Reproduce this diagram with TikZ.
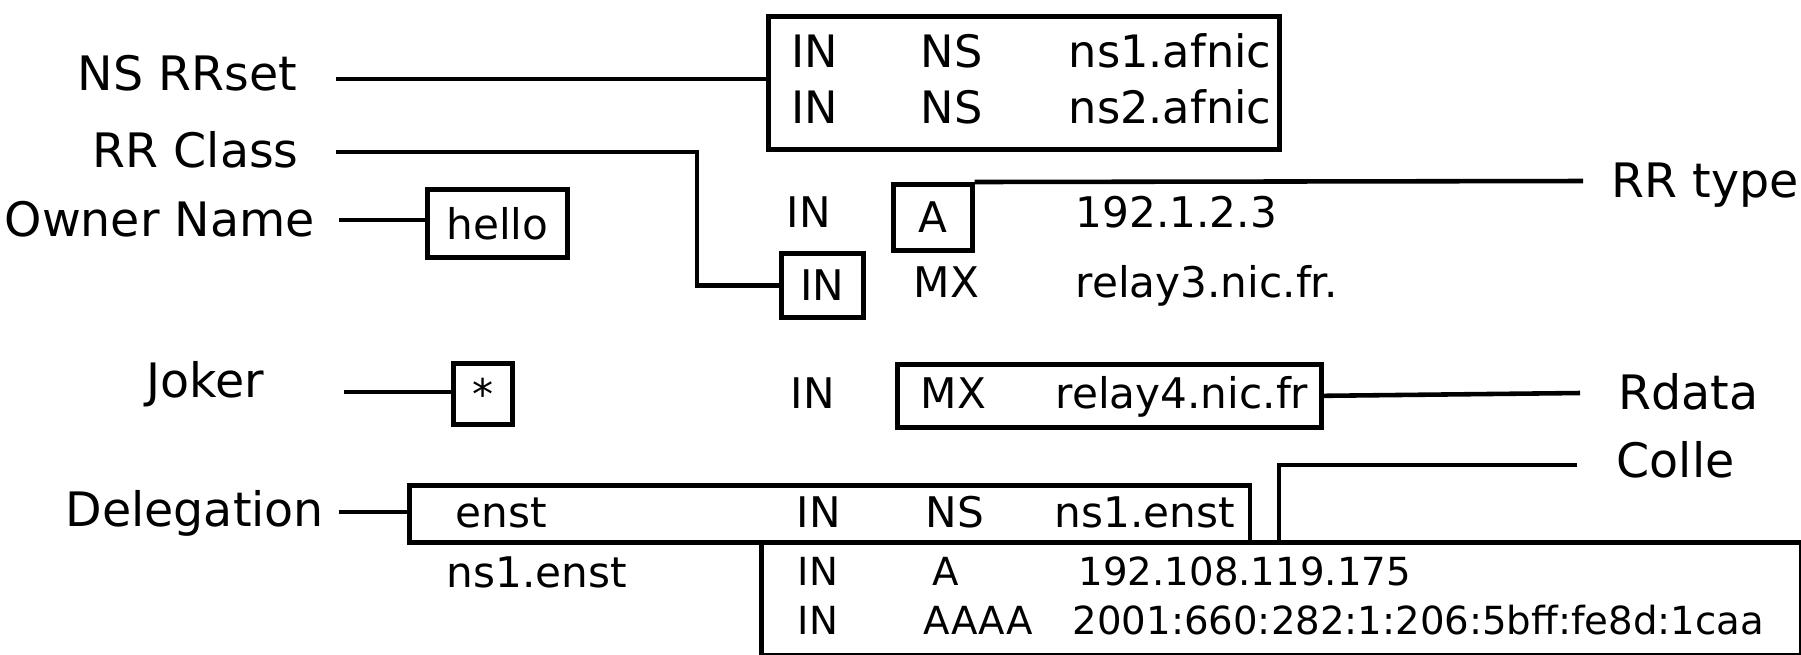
\documentclass[tikz,border=0pt]{standalone}
\usepackage{fontspec}
\setmainfont{DejaVu Sans}
\usepackage{tikz}
\tikzstyle{lbl} = [inner sep=0pt, anchor=base west, font=\fontsize{13.5}{16}\selectfont]
\tikzstyle{fld} = [inner sep=0pt, anchor=base west, font=\fontsize{12}{14}\selectfont]
\tikzstyle{nsfld} = [inner sep=0pt, anchor=base west, font=\fontsize{12.7}{15}\selectfont]
\tikzstyle{gluefld} = [inner sep=0pt, anchor=base west, font=\fontsize{11}{13}\selectfont]
\tikzstyle{rrbox} = [draw, line width=1.3pt, inner sep=0pt, anchor=north west, font=\fontsize{12}{14}\selectfont]
\tikzstyle{link} = [line width=1.3pt]

\begin{document}
\begin{tikzpicture}[x=0.01cm, y=-0.01cm]
            \useasboundingbox (0,0) rectangle (1801,654);

            % labels
            \node[lbl] (nsrr) at (77,90) {NS RRset};
            \node[lbl] (rrclass) at (92,167) {RR Class};
            \node[lbl] (owner) at (4,236) {Owner Name};
            \node[lbl] (joker) at (146,397) {Joker};
            \node[lbl] (deleg) at (65,526) {Delegation};
            \node[lbl] (rrtype) at (1611,197) {RR type};
            \node[lbl] (rdata) at (1618,409) {Rdata};
            \node[lbl] (colle) at (1616,477) {Colle};

            % NS RRset
            \node[nsfld] (ns1in) at (791,67) {IN};
            \node[nsfld] (ns1type) at (920,67) {NS};
            \node[nsfld] (ns1data) at (1068,67) {ns1.afnic};
            \node[nsfld] (ns2in) at (791,123) {IN};
            \node[nsfld] (ns2type) at (920,123) {NS};
            \node[nsfld] (ns2data) at (1068,123) {ns2.afnic};

            % boxes
            \node[rrbox, minimum width=5.11cm, minimum height=1.33cm] (nsset) at (766,14) {};
            \node[rrbox, minimum width=1.40cm, minimum height=0.68cm] (hellobox) at (425,187) {hello};
            \node[rrbox, minimum width=0.82cm, minimum height=0.64cm] (classbox) at (779,251) {IN};
            \node[rrbox, minimum width=0.79cm, minimum height=0.66cm] (typebox) at (891,182) {A};
            \node[rrbox, minimum width=0.59cm, minimum height=0.61cm] (starbox) at (451,361) {\raisebox{-0.35ex}{*}};
            \node[rrbox, minimum width=4.24cm, minimum height=0.63cm] (mxbox) at (895,362) {};
            \node[rrbox, minimum width=8.40cm, minimum height=0.57cm] (delegbox) at (407,483) {};
            \node[rrbox, minimum width=10.39cm, minimum height=1.13cm] (gluebox) at (759,540) {};

            % hello records
            \node[fld] (ain) at (786,227) {IN};
            \node[fld] (adata) at (1075,227) {192.1.2.3};
            \node[fld] (mx3type) at (913,297) {MX};
            \node[fld] (mx3data) at (1075,297) {relay3.nic.fr.};

            % joker record
            \node[fld] (mx4in) at (790,408) {IN};
            \node[fld] (mx4type) at (920,408) {MX};
            \node[fld] (mx4data) at (1055,408) {relay4.nic.fr};

            % delegation and glue
            \node[fld] (enst) at (455,527) {enst};
            \node[fld] (enstin) at (796,527) {IN};
            \node[fld] (ensttype) at (925,527) {NS};
            \node[fld] (enstdata) at (1054,527) {ns1.enst};
            \node[fld] (nsname) at (446,587) {ns1.enst};
            \node[gluefld] (gluein1) at (797,585) {IN};
            \node[gluefld] (gluetype1) at (932,585) {A};
            \node[gluefld] (gluedata1) at (1078,585) {192.108.119.175};
            \node[gluefld] (gluein2) at (797,634) {IN};
            \node[gluefld] (gluetype2) at (923,634) {AAAA};
            \node[gluefld] (gluedata2) at (1072,634) {2001:660:282:1:206:5bff:fe8d:1caa};

            % connectors
            \coordinate (nsrrend) at (336,79);
            \coordinate (classend) at (336,152);
            \coordinate (ownerend) at (339,220);
            \coordinate (typeend) at (1583,181);
            \coordinate (jokerend) at (344,392);
            \coordinate (rdataend) at (1580,393);
            \coordinate (colleend) at (1577,465);
            \coordinate (glueknot) at (1279,540);
            \coordinate (delegend) at (339,512);
            \draw[link] (nsrrend) -- (nsrrend -| nsset.west);
            \draw[link] (classend) -- (697,152) |- (classbox.west);
            \draw[link] (ownerend) -- (ownerend -| hellobox.west);
            \draw[link] (typebox.north east) -- (typeend);
            \draw[link] (jokerend) -- (jokerend -| starbox.west);
            \draw[link] (mxbox.east) -- (rdataend);
            \draw[link] (colleend) -| (glueknot);
            \draw[link] (delegend) -- (delegend -| delegbox.west);
        \end{tikzpicture}
\end{document}
